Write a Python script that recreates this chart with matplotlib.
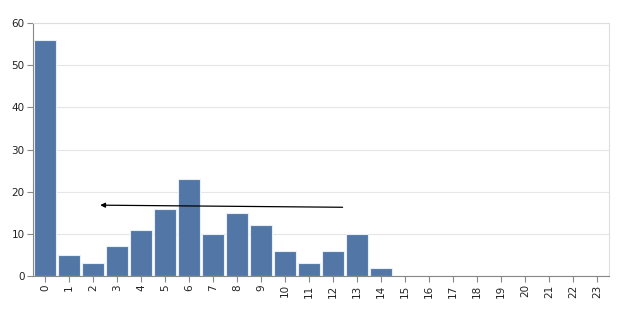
import matplotlib.pyplot as plt
import numpy as np

categories = [str(i) for i in range(24)]
values = [56, 5, 3, 7, 11, 16, 23, 10, 15, 12, 6, 3, 6, 10, 2, 0, 0, 0, 0, 0, 0, 0, 0, 0]

# arrow annotation (data coords: band index, value)
arrow_start = (12.4, 16.3)
arrow_end = (2.3, 16.8)

fig = plt.figure(figsize=(6.24, 3.26), dpi=100)
ax = fig.add_axes([33 / 624, 50 / 326, 576 / 624, 253 / 326])

x = np.arange(len(categories))
ax.bar(x, values, width=0.9, color='#5277a6', edgecolor='#e8eef5', linewidth=0.8, zorder=2)

ax.set_xlim(-0.5, len(categories) - 0.5)
ax.set_ylim(0, 60)
ax.set_yticks(range(0, 61, 10))
ax.set_xticks(x)
ax.set_xticklabels(categories, rotation=90, ha='center', va='top')

ax.grid(axis='y', color='#e6e6e6', linewidth=0.8, zorder=0)
ax.tick_params(axis='both', labelsize=7.5, colors='#888888', labelcolor='#222222',
               length=4, width=0.8, pad=2)
for side in ['top', 'right']:
    ax.spines[side].set_color('#dddddd')
    ax.spines[side].set_linewidth(0.8)
for side in ['left', 'bottom']:
    ax.spines[side].set_color('#888888')
    ax.spines[side].set_linewidth(0.8)

ax.annotate('', xy=arrow_end, xytext=arrow_start,
            arrowprops=dict(arrowstyle='-|>', color='black', lw=0.9,
                            mutation_scale=7, shrinkA=0, shrinkB=0), zorder=5)

fig.savefig('out.png', dpi=100)
